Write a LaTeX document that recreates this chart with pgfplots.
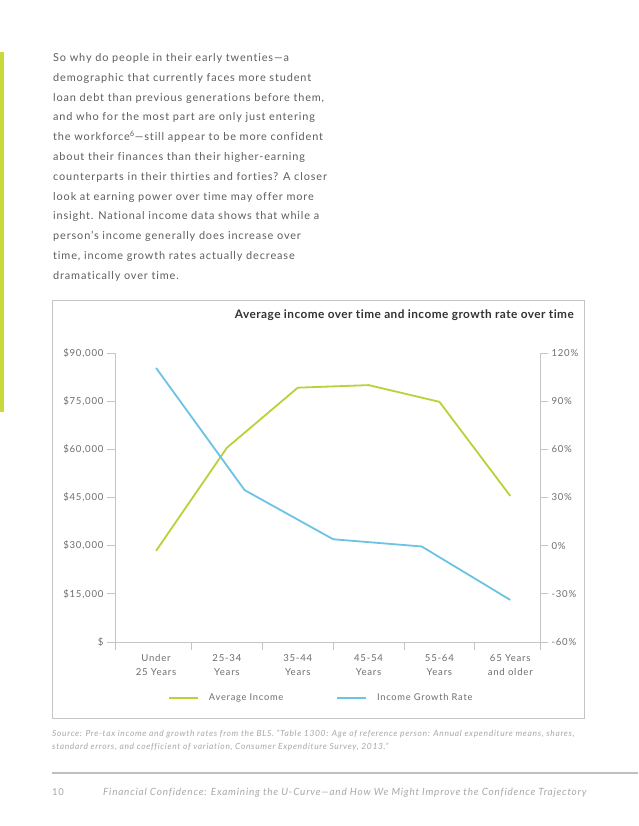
\documentclass[border=0pt]{standalone}
\usepackage{pgfplots}
\pgfplotsset{compat=1.18}
\usepackage{fontspec}
\setmainfont{Lato}[LetterSpace=8, Ligatures={NoCommon,NoRequired,NoContextual}]
\newfontfamily\titlefont{Lato}[LetterSpace=4, Ligatures={NoCommon,NoRequired,NoContextual}]
\definecolor{incgreen}{HTML}{BCD03A}
\definecolor{bargreen}{HTML}{C8DA3A}
\definecolor{ratblue}{HTML}{6CC3E3}
\definecolor{txtgray}{HTML}{5E5E5E}
\definecolor{lblgray}{HTML}{6E6E6E}
\definecolor{srcgray}{HTML}{A8A8A8}
\definecolor{axgray}{HTML}{C4C4C4}
\begin{document}
\begin{tikzpicture}
\path[use as bounding box, fill=white] (0pt,0pt) rectangle (638pt,-826pt);
\fill[bargreen] (0pt,-52pt) rectangle (4pt,-412pt);
% paragraph
\begin{scope}[every node/.style={anchor=base west, inner sep=0pt, text=txtgray, font=\fontsize{10.9}{12}\selectfont}]
\node at (53pt,-61.5pt) {So why do people in their early twenties—a};
\node at (53pt,-81.3pt) {demographic that currently faces more student};
\node at (53pt,-101.1pt) {loan debt than previous generations before them,};
\node at (53pt,-120.9pt) {and who for the most part are only just entering};
\node at (53pt,-140.7pt) {the workforce\textsuperscript{6}—still appear to be more confident};
\node at (53pt,-160.5pt) {about their finances than their higher-earning};
\node at (53pt,-180.3pt) {counterparts in their thirties and forties? A closer};
\node at (53pt,-200.1pt) {look at earning power over time may offer more};
\node at (53pt,-219.9pt) {insight. National income data shows that while a};
\node at (53pt,-239.7pt) {person’s income generally does increase over};
\node at (53pt,-259.5pt) {time, income growth rates actually decrease};
\node at (53pt,-279.3pt) {dramatically over time.};
\end{scope}
% frame
\draw[axgray, line width=1pt] (52pt,-300pt) rectangle (584pt,-718pt);
\node[anchor=base east, inner sep=0pt, text=black!80] at (574pt,-318.5pt) {\titlefont\bfseries\fontsize{11.8}{13}\selectfont Average income over time and income growth rate over time};
% income axis
\begin{axis}[
  at={(115pt,-642pt)}, anchor=south west,
  width=425pt, height=289pt, scale only axis,
  xmin=-0.58, xmax=5.42, ymin=0, ymax=90000,
  scaled y ticks=false,
  axis x line*=bottom, axis y line*=left,
  axis line style={axgray, line width=1pt},
  tick style={axgray, line width=1pt},
  tick align=outside, major tick length=8pt,
  xtick={-0.58,0.5,1.5,2.5,3.5,4.5,5.42}, xticklabels={},
  extra x ticks={0,1,2,3,4,5},
  extra x tick labels={Under\\25 Years,25-34\\Years,35-44\\Years,45-54\\Years,55-64\\Years,65 Years\\and older},
  extra x tick style={major tick length=0pt, tick label style={align=center, yshift=-9pt}},
  ytick={0,15000,30000,45000,60000,75000,90000},
  yticklabels={{\$},{\$15,000},{\$30,000},{\$45,000},{\$60,000},{\$75,000},{\$90,000}},
  tick label style={text=lblgray, font=\fontsize{9.6}{14}\selectfont},
  /pgf/number format/assume math mode=true,
  clip=false,
]
\addplot[incgreen, line width=1.8pt] coordinates {(0,28400) (1,60500) (2,79200) (3,80000) (4,74800) (5,45500)};
\end{axis}
% growth axis
\begin{axis}[
  at={(115pt,-642pt)}, anchor=south west,
  width=425pt, height=289pt, scale only axis,
  xmin=-0.58, xmax=5.42, ymin=-60, ymax=120,
  axis x line=none, axis y line*=right,
  axis line style={axgray, line width=1pt},
  tick style={axgray, line width=1pt},
  tick align=outside, major tick length=8pt,
  ytick={-60,-30,0,30,60,90,120},
  yticklabels={-60\%,-30\%,0\%,30\%,60\%,90\%,120\%},
  tick label style={text=lblgray, font=\fontsize{9.6}{11}\selectfont},
  /pgf/number format/assume math mode=true,
  clip=false,
  legend columns=2,
  legend style={at={(0.1247,-0.1938)}, anchor=west, draw=none, fill=none,
    inner sep=0pt, nodes={inner sep=0pt, text=lblgray, font=\fontsize{9.3}{11}\selectfont},
    /tikz/every odd column/.append style={column sep=10pt},
    /tikz/every even column/.append style={column sep=53pt}},
  legend image code/.code={\draw[#1] (0pt,0pt) -- (29pt,0pt);},
]
\addlegendimage{incgreen, line width=1.8pt}
\addlegendentry{Average Income}
\addplot[ratblue, line width=1.8pt] coordinates {(0,110.7) (1.25,34.6) (2.5,4) (3.75,-0.5) (5,-33.8)};
\addlegendentry{Income Growth Rate}
\end{axis}
% source
\begin{scope}[every node/.style={anchor=base west, inner sep=0pt, text=srcgray, font=\itshape\fontsize{8.45}{9}\selectfont}]
\node at (52pt,-736.5pt) {Source: Pre-tax income and growth rates from the BLS. “Table 1300: Age of reference person: Annual expenditure means, shares,};
\node at (52pt,-749.5pt) {standard errors, and coefficient of variation, Consumer Expenditure Survey, 2013.”};
\end{scope}
% footer
\draw[black!25, line width=1.2pt] (52pt,-773pt) -- (638pt,-773pt);
\node[anchor=base west, inner sep=0pt, text=srcgray, font=\fontsize{9.5}{11}\selectfont] at (52pt,-795.5pt) {10};
\node[anchor=base west, inner sep=0pt, text=srcgray, font=\itshape\fontsize{9.95}{11}\selectfont] at (103pt,-795.5pt) {Financial Confidence: Examining the U-Curve—and How We Might Improve the Confidence Trajectory};
\end{tikzpicture}
\end{document}
